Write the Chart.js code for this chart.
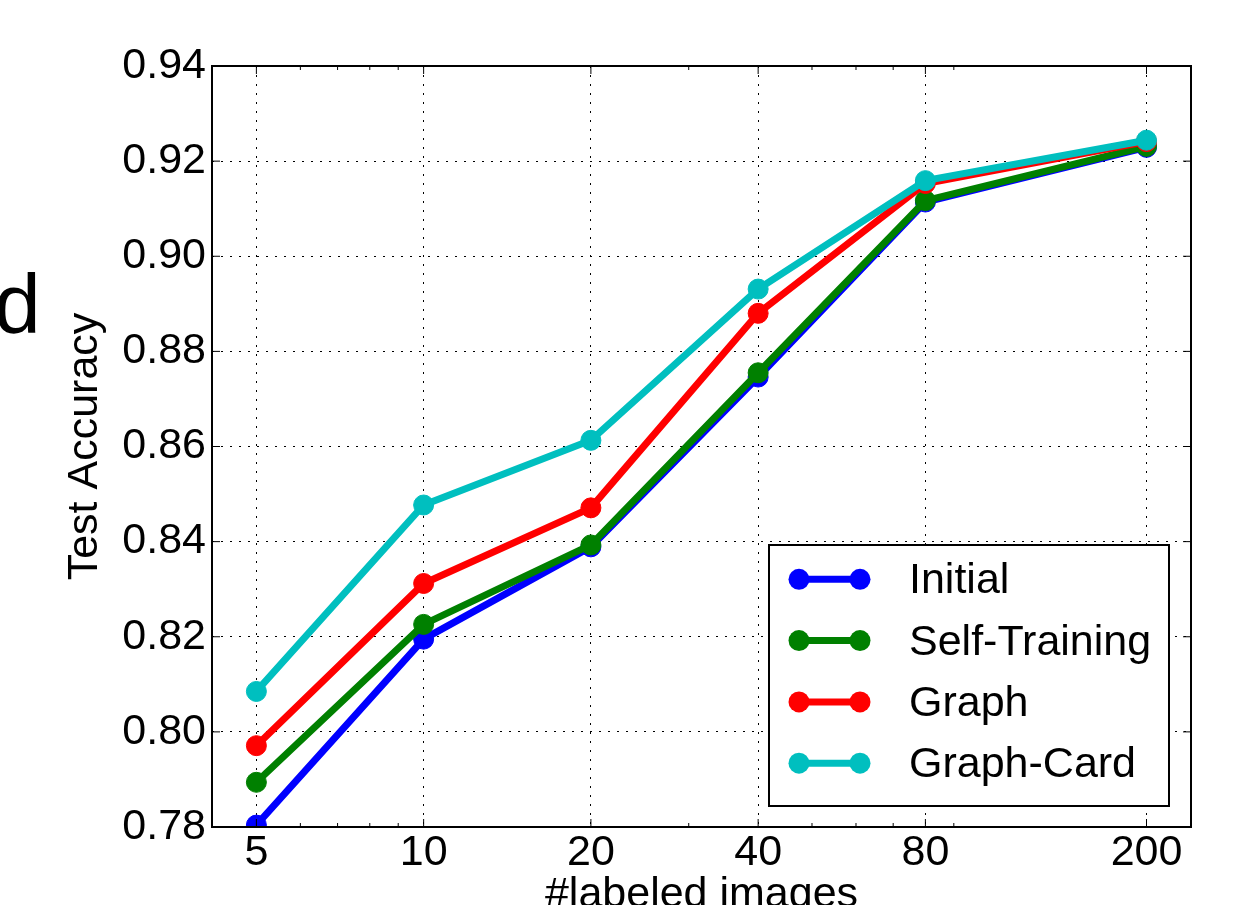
<!DOCTYPE html>
<html><head><meta charset="utf-8">
<script src="https://cdn.jsdelivr.net/npm/chart.js@4"></script>
<style>
html,body{margin:0;padding:0;background:#fff;overflow:hidden;width:1238px;height:905px}
#wrap{width:1238px;height:905px;overflow:hidden;position:relative}
canvas{display:block}
</style>
</head><body><div id="wrap"><canvas id="c" width="1238" height="940"></canvas></div>
<script>
const categories = [5, 10, 20, 40, 80, 200];
const seriesNames = ['Initial', 'Self-Training', 'Graph', 'Graph-Card'];
const initial      = [0.7804, 0.8195, 0.8389, 0.8746, 0.9114, 0.9229];
const selfTraining = [0.7894, 0.8226, 0.8393, 0.8755, 0.9117, 0.9231];
const graph        = [0.7971, 0.8312, 0.8471, 0.8880, 0.9153, 0.9241];
const graphCard    = [0.8085, 0.8477, 0.8613, 0.8931, 0.9159, 0.9244];
const yTicks = [0.78, 0.80, 0.82, 0.84, 0.86, 0.88, 0.90, 0.92, 0.94];
const xMinorTicks = [6, 7, 8, 9, 30, 50, 60, 70, 90];
const seriesColors = ['#0000ff', '#008000', '#ff0000', '#00bfbf'];
const xTitle = '#labeled images';
const yTitle = 'Test Accuracy';
const panelLetter = 'd';

const family = "'Liberation Sans', Arial, Helvetica, sans-serif";
const allSeries = [initial, selfTraining, graph, graphCard];

const datasets = allSeries.map((vals, i) => ({
  label: seriesNames[i],
  data: categories.map((x, j) => ({x: x, y: vals[j]})),
  borderColor: seriesColors[i],
  backgroundColor: seriesColors[i],
  pointBackgroundColor: seriesColors[i],
  pointBorderColor: seriesColors[i],
  borderWidth: 7,
  pointRadius: 10,
  pointBorderWidth: 1,
  pointHoverRadius: 10,
  tension: 0,
  clip: 0,
  order: allSeries.length - i
}));

const decor = {
  id: 'decor',
  afterDraw(chart) {
    const {ctx, chartArea: a, scales: {x, y}} = chart;
    ctx.save();
    ctx.strokeStyle = '#000';
    ctx.lineWidth = 1;
    const seg = (x1, y1, x2, y2) => { ctx.beginPath(); ctx.moveTo(x1, y1); ctx.lineTo(x2, y2); ctx.stroke(); };
    categories.forEach(v => { const p = x.getPixelForValue(v); seg(p, a.bottom, p, a.bottom - 8); seg(p, a.top, p, a.top + 8); });
    xMinorTicks.forEach(v => { const p = x.getPixelForValue(v); seg(p, a.bottom, p, a.bottom - 4); seg(p, a.top, p, a.top + 4); });
    yTicks.forEach(v => { const p = y.getPixelForValue(v); seg(a.left, p, a.left + 8, p); seg(a.right, p, a.right - 8, p); });
    ctx.lineWidth = 2;
    ctx.strokeRect(a.left, a.top, a.right - a.left, a.bottom - a.top);

    // legend
    const lw = 400, lh = 261;
    const lx = a.right - 22 - lw, ly = a.bottom - 21 - lh;
    ctx.fillStyle = '#fff';
    ctx.fillRect(lx, ly, lw, lh);
    ctx.strokeRect(lx, ly, lw, lh);
    chart.data.datasets.forEach((ds, i) => {
      const cy = ly + 34.3 + i * 61.3;
      const x1 = lx + 30, x2 = lx + 91;
      ctx.strokeStyle = ds.borderColor;
      ctx.lineWidth = 7;
      seg(x1, cy, x2, cy);
      ctx.fillStyle = ds.borderColor;
      [x1, x2].forEach(cx => { ctx.beginPath(); ctx.arc(cx, cy, 10.5, 0, Math.PI * 2); ctx.fill(); });
      ctx.fillStyle = '#000';
      ctx.font = '43px ' + family;
      ctx.textBaseline = 'alphabetic';
      ctx.textAlign = 'left';
      ctx.fillText(ds.label, lx + 140, cy + 14);
    });

    ctx.fillStyle = '#000';
    ctx.font = '84px ' + family;
    ctx.textBaseline = 'alphabetic';
    ctx.textAlign = 'left';
    ctx.fillText(panelLetter, -6, 333);
    ctx.restore();
  }
};

new Chart(document.getElementById('c'), {
  type: 'line',
  data: {datasets: datasets},
  plugins: [decor],
  options: {
    responsive: false,
    animation: false,
    devicePixelRatio: 1,
    layout: {padding: {top: 66, right: 47, left: 0, bottom: 0}},
    plugins: {legend: {display: false}, tooltip: {enabled: false}},
    scales: {
      x: {
        type: 'logarithmic',
        min: 4.16, max: 240.5,
        z: 1,
        afterBuildTicks: s => { s.ticks = categories.map(v => ({value: v})); },
        afterFit: s => { s.height = 113; },
        ticks: {callback: v => String(v), font: {family: family, size: 43}, color: '#000', padding: 0, maxRotation: 0, autoSkip: false},
        grid: {color: '#000', lineWidth: 1, drawTicks: false},
        border: {display: false, dash: [2, 7]},
        title: {display: true, text: xTitle, font: {family: family, size: 43}, color: '#000', padding: {top: 0, bottom: 19}}
      },
      y: {
        min: 0.78, max: 0.94,
        z: 1,
        afterBuildTicks: s => { s.ticks = yTicks.map(v => ({value: v})); },
        afterFit: s => { s.width = 212; },
        ticks: {callback: v => Number(v).toFixed(2), font: {family: family, size: 43}, color: '#000', padding: 6},
        grid: {color: c => (c.index === 0 || c.index === yTicks.length - 1) ? 'rgba(0,0,0,0)' : '#000', lineWidth: 1, drawTicks: false},
        border: {display: false, dash: [2, 7]},
        title: {display: true, text: yTitle, font: {family: family, size: 43}, color: '#000', padding: {top: 59, bottom: 0}}
      }
    }
  }
});
</script>
</body></html>
